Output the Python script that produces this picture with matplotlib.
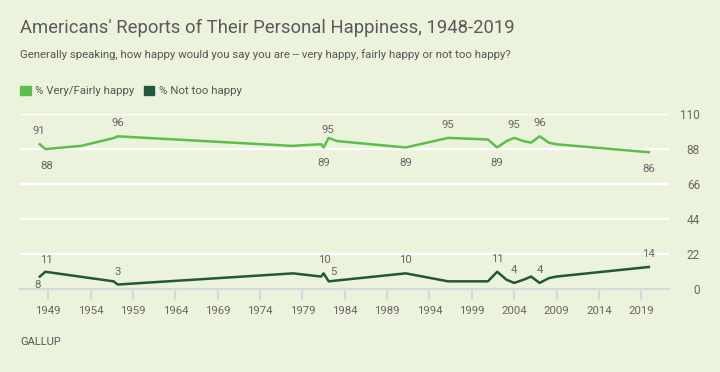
import matplotlib
matplotlib.use("Agg")
import matplotlib.pyplot as plt
from matplotlib.patches import Patch

plt.rcParams['font.family'] = ['Roboto', 'DejaVu Sans']

# data (decimal years)
years_happy = [1948.0, 1948.65, 1952.9, 1956.8, 1957.2, 1977.7, 1981.2, 1981.5, 1982.1, 1983.1,
               1991.2, 1996.2, 2000.9, 2002.0, 2003.1, 2004.0, 2005.1, 2006.0, 2007.0, 2008.1,
               2009.0, 2019.9]
pct_happy = [91, 88, 90, 95, 96, 90, 91, 89, 95, 93,
             89, 95, 94, 89, 93, 95, 93, 92, 96, 92,
             91, 86]

years_not = [1948.0, 1948.65, 1956.7, 1957.2, 1977.9, 1981.2, 1981.5, 1982.1,
             1991.2, 1996.2, 2000.9, 2002.0, 2003.1, 2004.0, 2005.1, 2006.0, 2007.0, 2008.1,
             2009.0, 2019.9]
pct_not = [8, 11, 5, 3, 10, 8, 10, 5,
           10, 5, 5, 11, 6, 4, 6, 8, 4, 7,
           8, 14]

year_ticks = list(range(1949, 2020, 5))
y_ticks = [0, 22, 44, 66, 88, 110]

# which points get a value label, with (dx, dy) pixel offsets
labels_happy = [(0, -1, 13), (1, 1, -17), (4, 0, 13), (8, -1, 8), (7, 0, -16),
                (10, 0, -16), (11, 0, 13), (13, 0, -16), (15, 0, 13), (18, 0, 13), (21, 0, -17)]
labels_not = [(0, -2, -8), (1, 1, 12), (3, 0, 13), (6, 1, 13), (7, 5, 9),
              (8, 0, 13), (11, 0, 13), (13, 0, 13), (16, 0, 13), (19, 0, 13)]

BG = '#ecf3dd'
C_HAPPY = '#5cbf4b'
C_NOT = '#22583a'
TXT = '#666666'

W, H = 720, 372
fig = plt.figure(figsize=(W / 100, H / 100), dpi=100, facecolor=BG)
ax = fig.add_axes([20 / W, 1 - 289.3 / H, (669 - 20) / W, (289.3 - 114) / H])
ax.set_facecolor(BG)

ax.plot(years_happy, pct_happy, color=C_HAPPY, lw=1.8, zorder=3, clip_on=False)
ax.plot(years_not, pct_not, color=C_NOT, lw=1.8, zorder=3, clip_on=False)

px2pt = 72 / 100
for series, xs, ys in [(labels_happy, years_happy, pct_happy), (labels_not, years_not, pct_not)]:
    for i, dx, dy in series:
        ax.annotate(f"{ys[i]}", (xs[i], ys[i]), xytext=(dx * px2pt, dy * px2pt),
                    textcoords='offset points', ha='center', va='center',
                    fontsize=8.2, color=TXT, zorder=4)

ax.set_xlim(1945.66, 2022.28)
ax.set_ylim(0, 110)

for s in ['top', 'left', 'right']:
    ax.spines[s].set_visible(False)
ax.spines['bottom'].set_color('#d9d9d9')
ax.spines['bottom'].set_linewidth(1.6)

for v in y_ticks[1:]:
    ax.axhline(v, color='white', lw=1.6, zorder=1)

ax.set_xticks(year_ticks)
ax.set_xticklabels([str(y) for y in year_ticks])
ax.tick_params(axis='x', length=8, width=1.6, color='#d9d9d9', pad=4,
               labelsize=8.2, labelcolor=TXT)

ax.yaxis.tick_right()
ax.set_yticks(y_ticks)
ax.set_yticklabels([str(v) for v in y_ticks])
ax.tick_params(axis='y', length=0, pad=31 * px2pt, labelsize=8.5, labelcolor=TXT)
for lab in ax.get_yticklabels():
    lab.set_horizontalalignment('right')

fig.text(20 / W, 1 - 28 / H, "Americans' Reports of Their Personal Happiness, 1948-2019",
         fontsize=13.3, color='#5a5a5a', va='center', ha='left')
fig.text(20 / W, 1 - 55 / H,
         "Generally speaking, how happy would you say you are -- very happy, fairly happy or not too happy?",
         fontsize=8.2, color='#555555', va='center', ha='left')
fig.text(20 / W, 1 - 342 / H, "GALLUP", fontsize=8, color='#555555', va='center', ha='left')

handles = [Patch(color=C_HAPPY, label='% Very/Fairly happy'),
           Patch(color=C_NOT, label='% Not too happy')]
fig.legend(handles=handles, loc='center left', bbox_to_anchor=(10 / W, 1 - 91 / H), ncol=2,
           frameon=False, fontsize=8.2, handlelength=0.9, handleheight=0.9,
           handletextpad=0.4, columnspacing=0.85, labelcolor='#555555')

fig.savefig('out.png', dpi=100, facecolor=BG)
